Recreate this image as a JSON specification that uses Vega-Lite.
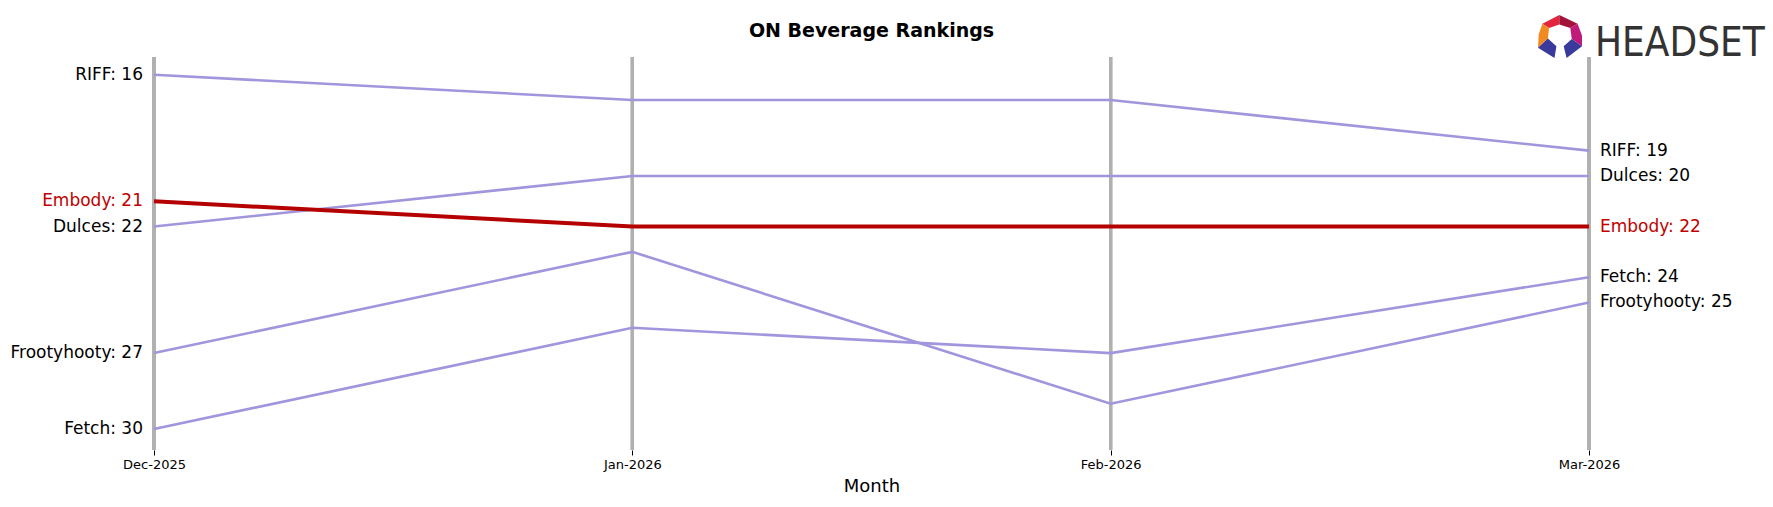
{
  "$schema": "https://vega.github.io/schema/vega-lite/v6.json",
  "width": 1435,
  "height": 393,
  "autosize": {"type": "none"},
  "padding": {"left": 154, "top": 57, "right": 184, "bottom": 57},
  "background": "white",
  "config": {"view": {"stroke": null}, "font": "DejaVu Sans"},
  "title": {"text": "ON Beverage Rankings", "font": "DejaVu Sans", "fontSize": 19, "fontWeight": "bold", "color": "#000000", "anchor": "middle", "offset": -26},
  "data": {"values": [
    {"brand": "RIFF", "month": "Dec-2025", "rank": 16},
    {"brand": "RIFF", "month": "Jan-2026", "rank": 17},
    {"brand": "RIFF", "month": "Feb-2026", "rank": 17},
    {"brand": "RIFF", "month": "Mar-2026", "rank": 19},
    {"brand": "Dulces", "month": "Dec-2025", "rank": 22},
    {"brand": "Dulces", "month": "Jan-2026", "rank": 20},
    {"brand": "Dulces", "month": "Feb-2026", "rank": 20},
    {"brand": "Dulces", "month": "Mar-2026", "rank": 20},
    {"brand": "Embody", "month": "Dec-2025", "rank": 21},
    {"brand": "Embody", "month": "Jan-2026", "rank": 22},
    {"brand": "Embody", "month": "Feb-2026", "rank": 22},
    {"brand": "Embody", "month": "Mar-2026", "rank": 22},
    {"brand": "Fetch", "month": "Dec-2025", "rank": 30},
    {"brand": "Fetch", "month": "Jan-2026", "rank": 26},
    {"brand": "Fetch", "month": "Feb-2026", "rank": 27},
    {"brand": "Fetch", "month": "Mar-2026", "rank": 24},
    {"brand": "Frootyhooty", "month": "Dec-2025", "rank": 27},
    {"brand": "Frootyhooty", "month": "Jan-2026", "rank": 23},
    {"brand": "Frootyhooty", "month": "Feb-2026", "rank": 29},
    {"brand": "Frootyhooty", "month": "Mar-2026", "rank": 25}
  ]},
  "transform": [{"calculate": "datum.brand + ': ' + datum.rank", "as": "label"}],
  "encoding": {
    "x": {"field": "month", "type": "ordinal", "sort": ["Dec-2025", "Jan-2026", "Feb-2026", "Mar-2026"],
      "scale": {"type": "point", "padding": 0},
      "axis": {"title": "Month", "titleFont": "DejaVu Sans", "titleFontSize": 18, "titleFontWeight": "normal", "titleColor": "#000000", "titlePadding": 6,
        "labelFont": "DejaVu Sans", "labelFontSize": 13, "labelColor": "#000000", "labelAngle": 0, "labelPadding": 3,
        "tickSize": 5, "tickColor": "#000000", "tickWidth": 1, "domain": false, "grid": false}}
  },
  "layer": [
    {"mark": {"type": "rule", "color": "#b0b0b0", "strokeWidth": 3}, "encoding": {}},
    {"transform": [{"filter": "datum.brand !== 'Embody'"}],
      "mark": {"type": "line", "color": "#a195dd", "strokeWidth": 2.6},
      "encoding": {
        "y": {"field": "rank", "type": "quantitative", "scale": {"domain": [15.3, 30.83], "reverse": true, "zero": false, "nice": false}, "axis": null},
        "detail": {"field": "brand"}
      }},
    {"transform": [{"filter": "datum.brand === 'Embody'"}],
      "mark": {"type": "line", "color": "#b50000", "strokeWidth": 4},
      "encoding": {
        "y": {"field": "rank", "type": "quantitative", "scale": {"domain": [15.3, 30.83], "reverse": true, "zero": false, "nice": false}, "axis": null}
      }},
    {"transform": [{"filter": "datum.month === 'Dec-2025'"}],
      "mark": {"type": "text", "align": "right", "baseline": "middle", "dx": -11, "font": "DejaVu Sans", "fontSize": 17},
      "encoding": {
        "y": {"field": "rank", "type": "quantitative"},
        "text": {"field": "label"},
        "color": {"condition": {"test": "datum.brand === 'Embody'", "value": "#c00000"}, "value": "#000000"}
      }},
    {"transform": [{"filter": "datum.month === 'Mar-2026'"}],
      "mark": {"type": "text", "align": "left", "baseline": "middle", "dx": 11, "font": "DejaVu Sans", "fontSize": 17},
      "encoding": {
        "y": {"field": "rank", "type": "quantitative"},
        "text": {"field": "label"},
        "color": {"condition": {"test": "datum.brand === 'Embody'", "value": "#c00000"}, "value": "#000000"}
      }},
    {"data": {"values": [{"logo": "HEADSET"}]},
      "mark": {"type": "text", "align": "left", "baseline": "alphabetic", "font": "DejaVu Sans Condensed, Roboto, sans-serif", "fontSize": 40, "color": "#333333", "dx": 6, "dy": -1},
      "encoding": {"x": {"datum": "Mar-2026"}, "y": {"datum": 15.3}, "text": {"field": "logo"}}},
    {"data": {"values": [{"logo": "icon"}]},
      "mark": {"type": "point", "filled": true, "size": 4, "opacity": 1, "strokeWidth": 0, "color": "#e3263c",
        "shape": "M -46.6 -33.2 L -29.7 -42 L -29.7 -32.6 L -40 -29.1 Z"},
      "encoding": {"x": {"datum": "Mar-2026"}, "y": {"datum": 15.3}}},
    {"data": {"values": [{"logo": "icon"}]},
      "mark": {"type": "point", "filled": true, "size": 4, "opacity": 1, "strokeWidth": 0, "color": "#a3123a",
        "shape": "M -29.7 -42 L -11.4 -33.2 L -18.7 -29.1 L -29.7 -32.6 Z"},
      "encoding": {"x": {"datum": "Mar-2026"}, "y": {"datum": 15.3}}},
    {"data": {"values": [{"logo": "icon"}]},
      "mark": {"type": "point", "filled": true, "size": 4, "opacity": 1, "strokeWidth": 0, "color": "#f28a22",
        "shape": "M -46.6 -33.2 L -40 -29.1 L -41.1 -18.6 L -51 -9.2 L -50.3 -22.4 Z"},
      "encoding": {"x": {"datum": "Mar-2026"}, "y": {"datum": 15.3}}},
    {"data": {"values": [{"logo": "icon"}]},
      "mark": {"type": "point", "filled": true, "size": 4, "opacity": 1, "strokeWidth": 0, "color": "#c01a7a",
        "shape": "M -11.4 -33.2 L -7 -21.5 L -7 -10.7 L -17.2 -18 L -18.7 -29.1 Z"},
      "encoding": {"x": {"datum": "Mar-2026"}, "y": {"datum": 15.3}}},
    {"data": {"values": [{"logo": "icon"}]},
      "mark": {"type": "point", "filled": true, "size": 4, "opacity": 1, "strokeWidth": 0, "color": "#3a3a9c",
        "shape": "M -51 -9.2 L -41.1 -18.6 L -32.6 -10.7 L -34.5 1 Z M -7 -10.7 L -17.2 -18 L -25.3 -10.7 L -22.4 1 Z"},
      "encoding": {"x": {"datum": "Mar-2026"}, "y": {"datum": 15.3}}}
  ]
}
